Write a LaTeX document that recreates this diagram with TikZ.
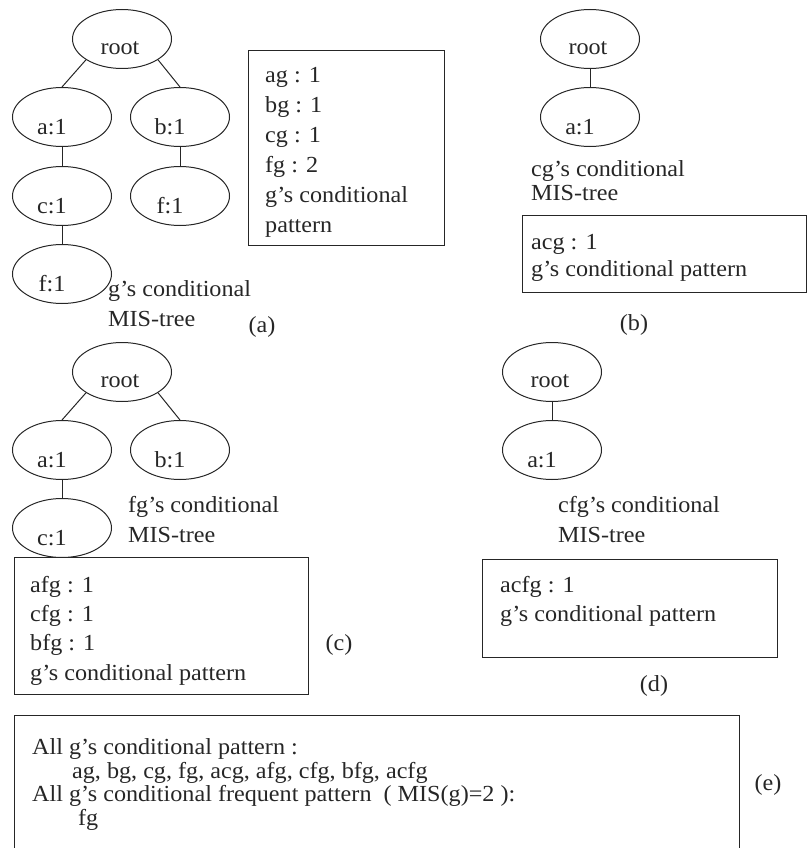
\documentclass[tikz,border=0pt]{standalone}
\usepackage{fontspec}
\setmainfont{Liberation Serif}[FakeStretch=1.05]
\usetikzlibrary{shapes.geometric}

\colorlet{ink}{black!85}

\begin{document}
\begin{tikzpicture}[x=1pt, y=-1pt,
  tnode/.style={ellipse, draw=ink, line width=1pt, minimum width=99pt,
                minimum height=59pt, inner sep=0pt},
  lbl/.style={inner sep=0pt, text=ink, xshift=-10pt, yshift=-10pt,
              font=\fontsize{23}{28}\selectfont},
  rootlbl/.style={inner sep=0pt, text=ink, xshift=-2pt, yshift=-9.5pt,
              font=\fontsize{23}{28}\selectfont},
  edge/.style={draw=ink, line width=1pt},
  frame/.style={draw=ink, line width=1.3pt, anchor=north west, inner sep=0pt},
  body/.style={anchor=north west, align=left, inner sep=0pt, text=ink},
  tag/.style={inner sep=0pt, text=ink, font=\fontsize{23}{28}\selectfont}]

\useasboundingbox (0,0) rectangle (808,848);
\clip (0,0) rectangle (808,848);

% ---------- (a) g's conditional MIS-tree ----------
\node[tnode, label={[rootlbl]center:root}] (aR) at (122,39) {};
\node[tnode, label={[lbl]center:a:1}] (aA) at (62,117) {};
\node[tnode, label={[lbl]center:b:1}] (aB) at (180,117) {};
\node[tnode, label={[lbl]center:c:1}] (aC) at (62,196) {};
\node[tnode, label={[lbl]center:f:1}] (aF) at (180,196) {};
\node[tnode, label={[lbl]center:f:1}] (aCF) at (62,274) {};
\draw[edge] (aR.210) -- (aA.north);
\draw[edge] (aR.330) -- (aB.north);
\draw[edge] (aA) -- (aC);
\draw[edge] (aB) -- (aF);
\draw[edge] (aC) -- (aCF);

\node[body, font=\fontsize{23}{30}\selectfont] (aCap) at (108,275)
  {\strut g's conditional\\\strut MIS-tree};
\node[frame, minimum width=196pt, minimum height=195pt] (aBox) at (248,50) {};
\node[body, font=\fontsize{23}{30}\selectfont] (aTxt) at (265,61)
  {\strut ag : 1\\\strut bg : 1\\\strut cg : 1\\\strut fg : 2\\
   \strut g's conditional\\\strut pattern};
\node[tag] (aTag) at (262,327) {(a)};

% ---------- (b) cg's conditional MIS-tree ----------
\node[tnode, label={[rootlbl]center:root}] (bR) at (590,39) {};
\node[tnode, label={[lbl]center:a:1}] (bA) at (590,117) {};
\draw[edge] (bR) -- (bA);

\node[body, font=\fontsize{23}{24}\selectfont] (bCap) at (531,159)
  {\strut cg's conditional\\\strut MIS-tree};
\node[frame, minimum width=284pt, minimum height=77pt] (bBox) at (522,215) {};
\node[body, font=\fontsize{23}{27}\selectfont] (bTxt) at (531,230)
  {\strut acg : 1\\\strut g's conditional pattern};
\node[tag] (bTag) at (634,325) {(b)};

% ---------- (c) fg's conditional MIS-tree ----------
\node[tnode, label={[rootlbl]center:root}] (cR) at (122,372) {};
\node[tnode, label={[lbl]center:a:1}] (cA) at (62,450) {};
\node[tnode, label={[lbl]center:b:1}] (cB) at (180,450) {};
\node[tnode, label={[lbl]center:c:1}] (cC) at (62,528) {};
\draw[edge] (cR.210) -- (cA.north);
\draw[edge] (cR.330) -- (cB.north);
\draw[edge] (cA) -- (cC);

\node[body, font=\fontsize{23}{30}\selectfont] (cCap) at (128,491)
  {\strut fg's conditional\\\strut MIS-tree};
\node[frame, fill=white, minimum width=294pt, minimum height=137pt] (cBox) at (14,557) {};
\node[body, font=\fontsize{23}{29.3}\selectfont] (cTxt) at (30,571.5)
  {\strut afg : 1\\\strut cfg : 1\\\strut bfg : 1\\\strut g's conditional pattern};
\node[tag] (cTag) at (339,645) {(c)};

% ---------- (d) cfg's conditional MIS-tree ----------
\node[tnode, label={[rootlbl]center:root}] (dR) at (552,372) {};
\node[tnode, label={[lbl]center:a:1}] (dA) at (552,450) {};
\draw[edge] (dR) -- (dA);

\node[body, font=\fontsize{23}{30}\selectfont] (dCap) at (558,491)
  {\strut cfg's conditional\\\strut MIS-tree};
\node[frame, minimum width=295pt, minimum height=98pt] (dBox) at (482,559) {};
\node[body, font=\fontsize{23}{29}\selectfont] (dTxt) at (500,571.7)
  {\strut acfg : 1\\\strut g's conditional pattern};
\node[tag] (dTag) at (654,686) {(d)};

% ---------- (e) summary ----------
\node[frame, minimum width=725pt, minimum height=150pt] (eBox) at (14,715) {};
\node[body, font=\fontsize{23}{23.5}\selectfont] (eTxt) at (32,738)
  {\strut All g's conditional pattern :\\
   \strut\hspace*{40pt}ag, bg, cg, fg, acg, afg, cfg, bfg, acfg\\
   \strut All g's conditional frequent pattern\ \ ( MIS(g)=2 ):\\
   \strut\hspace*{46pt}fg};
\node[tag] (eTag) at (768,785) {(e)};

\end{tikzpicture}
\end{document}
